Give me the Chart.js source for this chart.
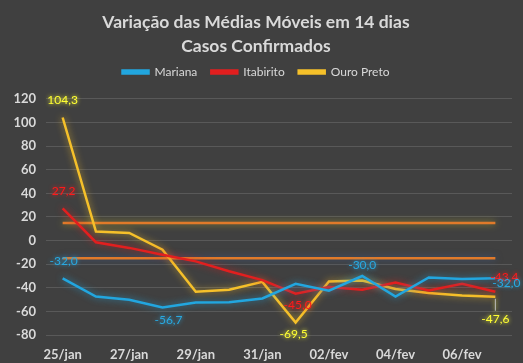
<!DOCTYPE html>
<html>
<head>
<meta charset="utf-8">
<script src="https://cdn.jsdelivr.net/npm/chart.js@4.4.1/dist/chart.umd.min.js"></script>
<style>
  html, body { margin: 0; padding: 0; background: #404040; }
</style>
</head>
<body>
<canvas id="lineChart" width="523" height="363"></canvas>
<script>
// dias
const dias = ["25/jan", "26/jan", "27/jan", "28/jan", "29/jan", "30/jan", "31/jan",
              "01/fev", "02/fev", "03/fev", "04/fev", "05/fev", "06/fev", "07/fev"];

// variação (%) das médias móveis
const mariana   = [-32.0, -47.4, -50.2, -56.7, -52.5, -52.3, -49.0, -36.6, -42.5, -30.0, -47.4, -31.2, -32.6, -32.0];
const itabirito = [27.2, -1.4, -6.2, -12.0, -17.6, -26.0, -33.5, -45.0, -39.4, -41.7, -35.5, -42.3, -36.6, -43.4];
const ouroPreto = [104.3, 7.7, 6.5, -7.7, -43.4, -41.7, -35.0, -69.5, -34.6, -33.8, -41.0, -44.5, -46.5, -47.6];

// faixas de referência
const limiteSuperior = [15, 15, 15, 15, 15, 15, 15, 15, 15, 15, 15, 15, 15, 15];
const limiteInferior = [-15, -15, -15, -15, -15, -15, -15, -15, -15, -15, -15, -15, -15, -15];

// eixo y
const yMin = -80;
const yMax = 120;
const yStep = 20;

const FONT = "Lato, 'Open Sans', sans-serif";

// pontos com rótulo: [dataset, índice, dx, dy]
const rotulos = [
  [2, 0, 0, -17], [2, 7, -2, 12], [2, 13, 0, 22],
  [1, 0, 1, -17], [1, 7, 2, 11], [1, 13, 9, -15],
  [0, 0, 1, -17], [0, 3, 6, 13], [0, 9, 0, -11], [0, 13, 11, 5]
];
const corRotulo = ["#29a9e1", "#ff1a1a", "#ffff33"];

// fundo escuro
const fundo = {
  id: "fundo",
  beforeDraw(chart) {
    const ctx = chart.ctx;
    ctx.save();
    ctx.fillStyle = "#404040";
    ctx.fillRect(0, 0, chart.width, chart.height);
    ctx.restore();
  }
};

// espaço extra abaixo da legenda
const espacoLegenda = {
  id: "espacoLegenda",
  beforeLayout(chart) {
    const lg = chart.legend;
    if (lg && !lg._ajustado) {
      const fitOriginal = lg.fit;
      lg.fit = function () {
        fitOriginal.call(this);
        this.height += 11;
      };
      lg._ajustado = true;
    }
  }
};

// brilho em volta das linhas
const brilho = {
  id: "brilho",
  beforeDatasetDraw(chart, args) {
    const ds = chart.data.datasets[args.index];
    chart.ctx.save();
    chart.ctx.shadowColor = ds.glow;
    chart.ctx.shadowBlur = 7;
  },
  afterDatasetDraw(chart) {
    chart.ctx.restore();
  }
};

// rótulos de dados
const rotulosPlugin = {
  id: "rotulosPlugin",
  afterDatasetsDraw(chart) {
    const ctx = chart.ctx;
    ctx.save();
    ctx.font = "12px " + FONT;
    ctx.textAlign = "center";
    ctx.textBaseline = "middle";
    rotulos.forEach(([d, i, dx, dy]) => {
      const pt = chart.getDatasetMeta(d).data[i];
      const v = chart.data.datasets[d].data[i];
      const txt = v.toFixed(1).replace(".", ",");
      if (d === 2 && i === 13) {
        ctx.strokeStyle = "#bfbfbf";
        ctx.lineWidth = 1;
        ctx.beginPath();
        ctx.moveTo(pt.x, pt.y + 2);
        ctx.lineTo(pt.x, pt.y + dy - 8);
        ctx.stroke();
      }
      ctx.shadowColor = corRotulo[d];
      ctx.shadowBlur = 4;
      ctx.fillStyle = corRotulo[d];
      ctx.fillText(txt, pt.x + dx, pt.y + dy);
    });
    ctx.restore();
  }
};

const data = {
  labels: dias,
  datasets: [
    { label: "Mariana", data: mariana, borderColor: "#22a6df", backgroundColor: "#22a6df", glow: "rgba(34,166,223,0.7)" },
    { label: "Itabirito", data: itabirito, borderColor: "#e21f1f", backgroundColor: "#e21f1f", glow: "rgba(226,31,31,0.7)" },
    { label: "Ouro Preto", data: ouroPreto, borderColor: "#f5c02a", backgroundColor: "#f5c02a", glow: "rgba(245,192,42,0.7)" },
    { label: "lim1", data: limiteSuperior, borderColor: "#e07a2a", backgroundColor: "#e07a2a", glow: "rgba(200,190,40,0.7)" },
    { label: "lim2", data: limiteInferior, borderColor: "#e07a2a", backgroundColor: "#e07a2a", glow: "rgba(60,90,140,0.9)" }
  ].map((ds) => Object.assign(ds, { borderWidth: 2.5, pointRadius: 0, tension: 0, fill: false }))
};

const options = {
  responsive: false,
  animation: false,
  layout: { padding: { left: 0, right: 11, top: 0, bottom: 0 } },
  plugins: {
    title: {
      display: true,
      text: ["Variação das Médias Móveis em 14 dias", "Casos Confirmados"],
      color: "#d9d9d9",
      font: { family: FONT, size: 17.5, weight: "bold", lineHeight: 1.37 },
      padding: { top: 10, bottom: -6 }
    },
    legend: {
      display: true,
      labels: {
        color: "#d9d9d9",
        font: { family: FONT, size: 12 },
        boxWidth: 26,
        boxHeight: 3,
        padding: 14,
        filter: (item) => item.datasetIndex < 3
      }
    },
    tooltip: { enabled: false }
  },
  scales: {
    x: {
      offset: true,
      grid: { display: false },
      border: { display: false },
      ticks: {
        color: "#d9d9d9",
        font: { family: FONT, size: 13, weight: "bold" },
        autoSkip: false,
        maxRotation: 0,
        padding: 4,
        callback: function (val, idx) { return idx % 2 === 0 ? this.getLabelForValue(val) : ""; }
      },
      afterFit: (scale) => { scale.height = 28; }
    },
    y: {
      min: yMin,
      max: yMax,
      grid: { color: "#595959", lineWidth: 1, drawTicks: false },
      border: { display: false },
      ticks: {
        stepSize: yStep,
        color: "#d9d9d9",
        font: { family: FONT, size: 13, weight: "bold" },
        padding: 10
      },
      afterFit: (scale) => { scale.width = 46; }
    }
  }
};

const ctx = document.getElementById("lineChart").getContext("2d");
new Chart(ctx, {
  type: "line",
  data: data,
  options: options,
  plugins: [fundo, espacoLegenda, brilho, rotulosPlugin]
});
</script>
</body>
</html>
